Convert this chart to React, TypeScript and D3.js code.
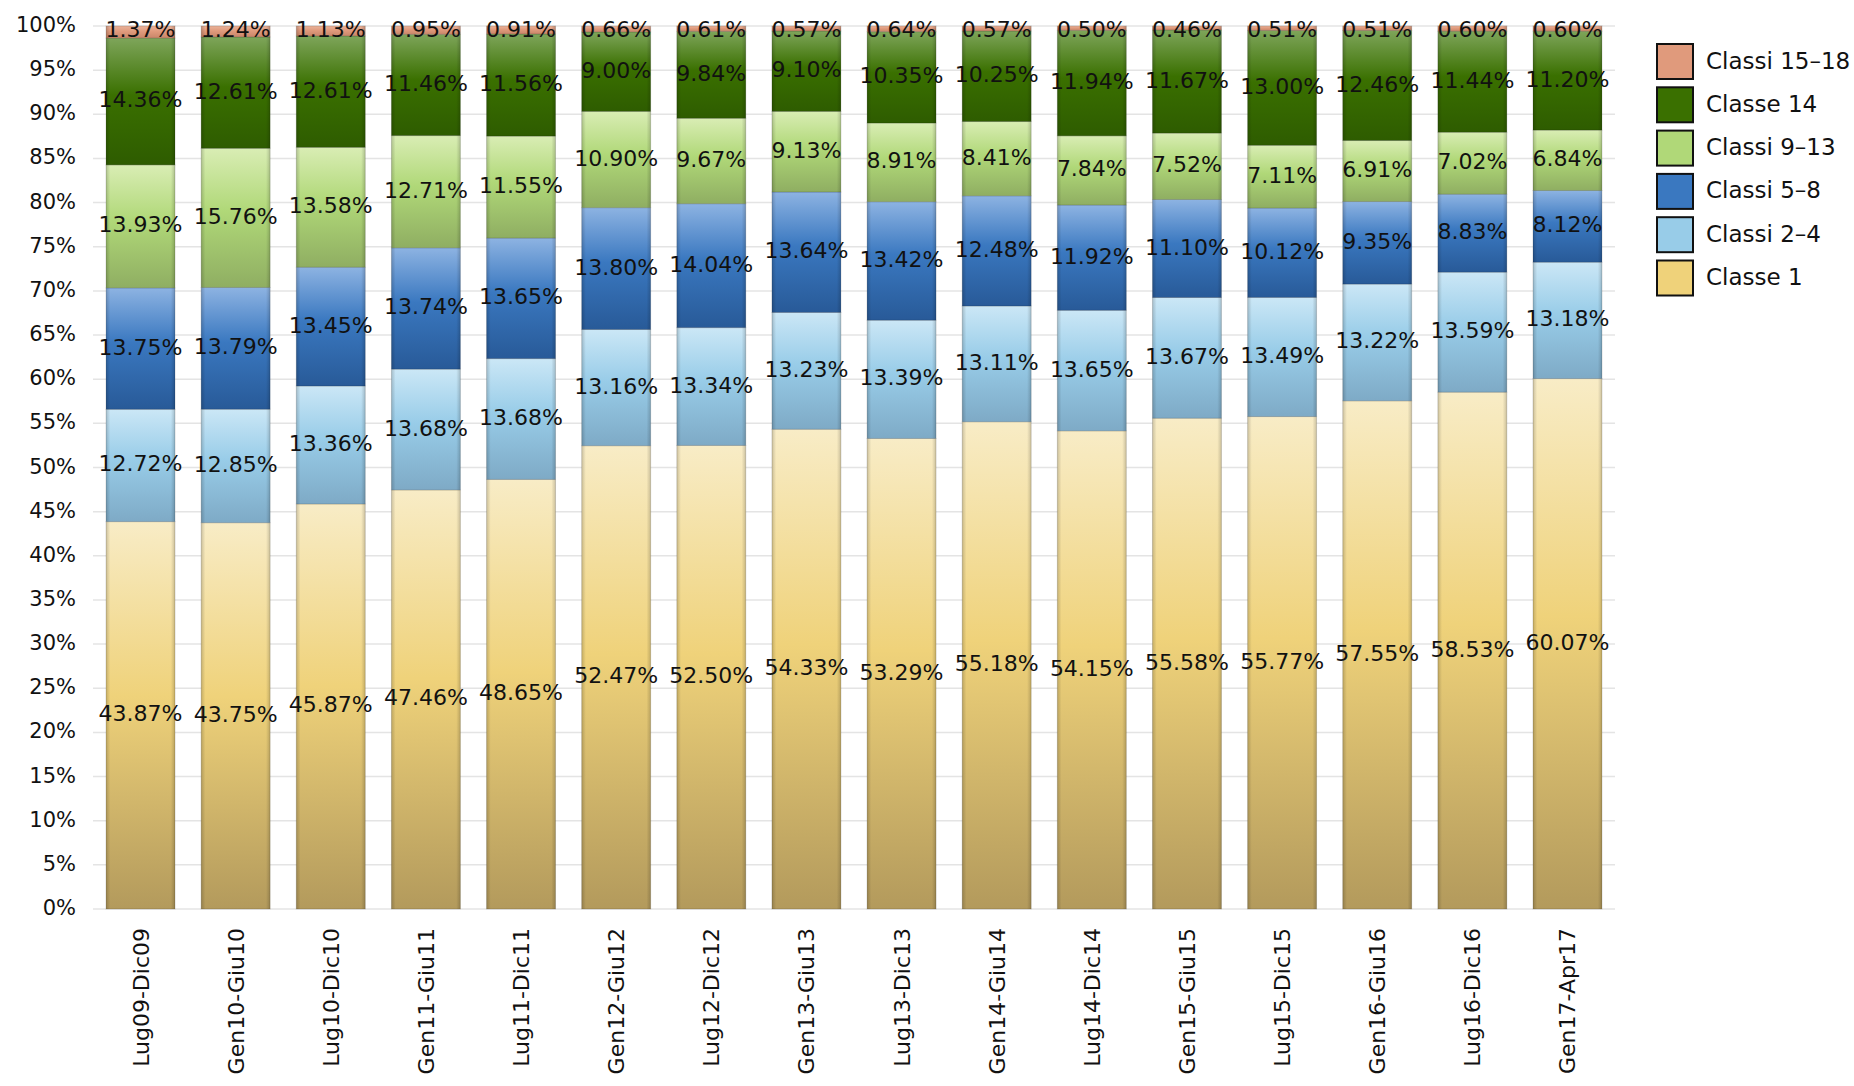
import * as d3 from 'd3';

const periods = ['Lug09-Dic09','Gen10-Giu10','Lug10-Dic10','Gen11-Giu11','Lug11-Dic11','Gen12-Giu12','Lug12-Dic12','Gen13-Giu13','Lug13-Dic13','Gen14-Giu14','Lug14-Dic14','Gen15-Giu15','Lug15-Dic15','Gen16-Giu16','Lug16-Dic16','Gen17-Apr17'];
const classe1 = [43.87,43.75,45.87,47.46,48.65,52.47,52.5,54.33,53.29,55.18,54.15,55.58,55.77,57.55,58.53,60.07];
const classi2_4 = [12.72,12.85,13.36,13.68,13.68,13.16,13.34,13.23,13.39,13.11,13.65,13.67,13.49,13.22,13.59,13.18];
const classi5_8 = [13.75,13.79,13.45,13.74,13.65,13.8,14.04,13.64,13.42,12.48,11.92,11.1,10.12,9.35,8.83,8.12];
const classi9_13 = [13.93,15.76,13.58,12.71,11.55,10.9,9.67,9.13,8.91,8.41,7.84,7.52,7.11,6.91,7.02,6.84];
const classe14 = [14.36,12.61,12.61,11.46,11.56,9.0,9.84,9.1,10.35,10.25,11.94,11.67,13.0,12.46,11.44,11.2];
const classi15_18 = [1.37,1.24,1.13,0.95,0.91,0.66,0.61,0.57,0.64,0.57,0.5,0.46,0.51,0.51,0.6,0.6];
const yTicks = d3.range(0, 101, 5);

const series = [
  { name: 'Classe 1', values: classe1, color: '#efd27a', top: '#f8ecc6', bottom: '#b39a5c' },
  { name: 'Classi 2-4', values: classi2_4, color: '#98cce8', top: '#cbe7f6', bottom: '#7eaac6' },
  { name: 'Classi 5-8', values: classi5_8, color: '#3a78c0', top: '#8db3e2', bottom: '#285a98' },
  { name: 'Classi 9-13', values: classi9_13, color: '#b0d878', top: '#d9edb4', bottom: '#8fae62' },
  { name: 'Classe 14', values: classe14, color: '#3a7000', top: '#7ea55a', bottom: '#2e5c00' },
  { name: 'Classi 15-18', values: classi15_18, color: '#e09a7c', top: '#eab39a', bottom: '#c8866a' },
];

const W = 1854, H = 1086;
const left = 93, right = 1615, top = 26, bottom = 909;
const FONT = '"DejaVu Sans", sans-serif';

export default function App() {
  const x = d3.scaleBand<string>().domain(periods).range([left, right]).paddingInner(0.275).paddingOuter(0.137);
  const y = d3.scaleLinear().domain([0, 100]).range([bottom, top]);
  const stack = d3.stack<number>().keys(series.map((_, i) => String(i))).value((i, k) => series[+k].values[i]);
  const layers = stack(periods.map((_, i) => i));

  return (
    <svg width={W} height={H} style={{ position: 'absolute', left: 0, top: 0, background: '#fff' }} fontFamily={FONT}>
      <defs>
        {series.map((s, i) => (
          <linearGradient key={i} id={`g${i}`} x1='0' y1='0' x2='0' y2='1'>
            <stop offset='0%' stopColor={s.top} />
            <stop offset='45%' stopColor={s.color} />
            <stop offset='100%' stopColor={s.bottom} />
          </linearGradient>
        ))}
        <linearGradient id='edge' x1='0' y1='0' x2='1' y2='0'>
          <stop offset='0%' stopColor='#000' stopOpacity={0.18} />
          <stop offset='6%' stopColor='#000' stopOpacity={0} />
          <stop offset='94%' stopColor='#000' stopOpacity={0} />
          <stop offset='100%' stopColor='#000' stopOpacity={0.18} />
        </linearGradient>
      </defs>
      {yTicks.map((t) => (
        <g key={t}>
          <line x1={left} x2={right} y1={y(t)} y2={y(t)} stroke='#e4e4e4' strokeWidth={1.5} />
          <text x={76} y={y(t)} textAnchor='end' dominantBaseline='middle' fontSize={21} fill='#111'>{t}%</text>
        </g>
      ))}
      {layers.map((layer, si) => (
        <g key={si}>
          {layer.map((d, i) => (
            <g key={i}>
              <rect x={x(periods[i])} width={x.bandwidth()} y={y(d[1])} height={y(d[0]) - y(d[1])} fill={`url(#g${si})`} stroke='rgba(0,0,0,0.15)' strokeWidth={1} />
              <rect x={x(periods[i])} width={x.bandwidth()} y={y(d[1])} height={y(d[0]) - y(d[1])} fill='url(#edge)' />
            </g>
          ))}
        </g>
      ))}
      {layers.map((layer, si) => (
        <g key={'l' + si}>
          {layer.map((d, i) => (
            <text key={i} x={(x(periods[i]) ?? 0) + x.bandwidth() / 2} y={si === 5 ? y(d[1]) + 5 : y((d[0] + d[1]) / 2)} textAnchor='middle' dominantBaseline='middle' fontSize={22} fill='#111'>
              {series[si].values[i].toFixed(2)}%
            </text>
          ))}
        </g>
      ))}
      {periods.map((p) => (
        <text key={p} transform={`translate(${(x(p) ?? 0) + x.bandwidth() / 2 + 8},928) rotate(-90)`} textAnchor='end' fontSize={22} fill='#111'>{p}</text>
      ))}
      {series.slice().reverse().map((s, i) => (
        <g key={s.name} transform={`translate(1657,${44 + i * 43.3})`}>
          <rect width={36} height={35} fill={s.color} stroke='#111' strokeWidth={2} />
          <text x={49} y={18} dominantBaseline='middle' fontSize={23} fill='#111'>{s.name.replace('-', '–')}</text>
        </g>
      ))}
    </svg>
  );
}
